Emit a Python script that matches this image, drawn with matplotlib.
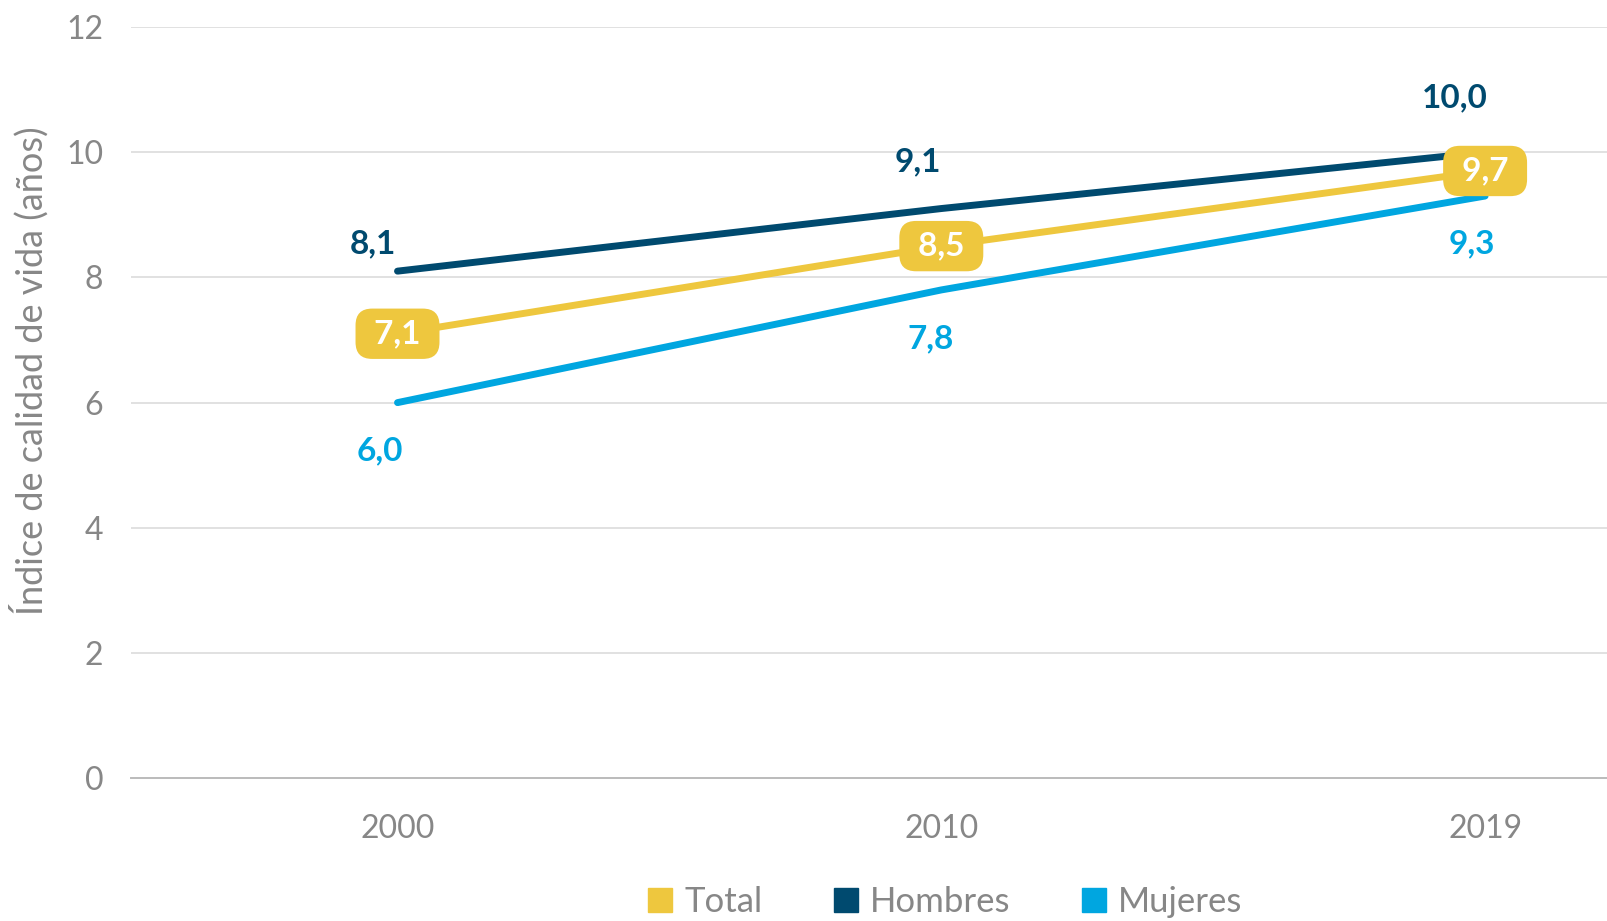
import numpy as np
import matplotlib.pyplot as plt
from matplotlib.lines import Line2D

years = ['2000', '2010', '2019']
total = [7.1, 8.5, 9.7]
hombres = [8.1, 9.1, 10.0]
mujeres = [6.0, 7.8, 9.3]

c_total = '#EEC73E'
c_hombres = '#004A6F'
c_mujeres = '#00A6E0'
c_text = '#878787'

plt.rcParams['font.family'] = ['Lato', 'DejaVu Sans']

fig = plt.figure(figsize=(16.08, 9.21), dpi=100)
ax = fig.add_axes([0.0815, 0.155, 0.9185, 0.8157])

x = np.arange(len(years))
ax.plot(x, hombres, color=c_hombres, lw=5, solid_capstyle='round', zorder=3)
ax.plot(x, total, color=c_total, lw=5, solid_capstyle='round', zorder=4)
ax.plot(x, mujeres, color=c_mujeres, lw=5, solid_capstyle='round', zorder=3)

# label offsets in pixels (dx, dy)
h_off = [(-25, 27), (-23, 47), (-30, 54)]
m_off = [(-18, -48), (-11, -49), (-13, -48)]

def fmt(v):
    return ('%.1f' % v).replace('.', ',')

for i in x:
    ax.annotate(fmt(hombres[i]), (i, hombres[i]), xytext=h_off[i], textcoords='offset pixels',
                ha='center', va='center', fontsize=24, fontweight='bold', color=c_hombres, zorder=5)
    ax.annotate(fmt(mujeres[i]), (i, mujeres[i]), xytext=m_off[i], textcoords='offset pixels',
                ha='center', va='center', fontsize=24, fontweight='bold', color=c_mujeres, zorder=5)
    ax.text(i, total[i], ' ' + fmt(total[i]) + ' ', ha='center', va='center', fontsize=24,
            fontweight='bold', color='white', zorder=6,
            bbox=dict(boxstyle='round,pad=0.32,rounding_size=0.5', fc=c_total, ec='none'))

ax.set_ylim(0, 12)
ax.set_xlim(-0.49, 2.226)
ax.set_yticks(range(0, 13, 2))
ax.set_xticks(x)
ax.set_xticklabels(years)
ax.yaxis.grid(True, color='#DCDCDC', lw=1.2)
ax.set_axisbelow(True)
for s in ['top', 'right', 'left']:
    ax.spines[s].set_visible(False)
ax.spines['bottom'].set_color('#BBBBBB')
ax.spines['bottom'].set_linewidth(1.4)
ax.tick_params(axis='both', length=0, labelsize=23, labelcolor=c_text)
ax.tick_params(axis='y', pad=20)
ax.tick_params(axis='x', pad=26)
ax.set_ylabel('Índice de calidad de vida (años)', fontsize=26, color=c_text)
ax.yaxis.set_label_coords(-0.0555, 0.542)

handles = [Line2D([], [], ls='none', marker='s', markersize=17, color=c) for c in (c_total, c_hombres, c_mujeres)]
fig.legend(handles, ['Total', 'Hombres', 'Mujeres'], loc='center', bbox_to_anchor=(0.585, 0.021), ncol=3,
           frameon=False, fontsize=25, labelcolor=c_text, handletextpad=0.1, columnspacing=1.8,
           handlelength=1.2)

fig.savefig('out.png', dpi=100)
